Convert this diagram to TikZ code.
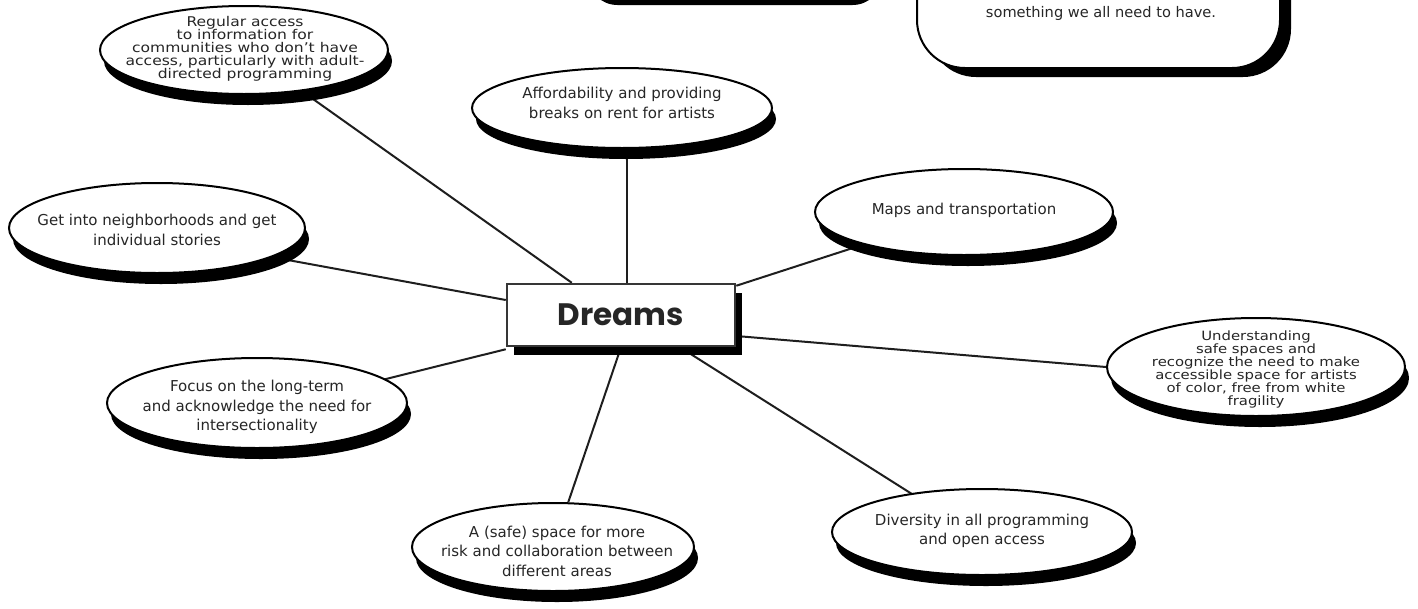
\documentclass[tikz,border=0pt]{standalone}
\usepackage{fontspec}
\setmainfont{DejaVu Sans}
\newfontfamily\widefont[FakeStretch=1.16]{DejaVu Sans}
\newfontfamily\titlefont{Poppins}
\usetikzlibrary{shapes.geometric,shadows,calc}
\pgfdeclarelayer{bg}
\pgfsetlayers{bg,main}
\definecolor{textgray}{HTML}{262626}
\definecolor{boxgray}{HTML}{363636}
\definecolor{linegray}{HTML}{1E1E1E}

\begin{document}
\lineskiplimit=-50pt\relax
\begin{tikzpicture}[x=1pt,y=-1pt,
  bubble/.style={ellipse, draw=black, line width=2pt, fill=white, inner sep=0pt,
    general shadow={shadow xshift=4pt, shadow yshift=-11pt, fill=black}},
  panel/.style={draw=black, line width=2pt, fill=white, inner sep=0pt},
  bubbletext/.style={align=center, text=textgray, inner sep=0pt,
    font=\fontsize{15}{19.5}\selectfont},
  densetext/.style={align=center, text=textgray, inner sep=0pt,
    font=\widefont\fontsize{13.4}{13}\selectfont},
  conn/.style={draw=linegray, line width=2pt}]

\useasboundingbox (0,0) rectangle (1418,608);
\clip (0,0) rectangle (1418,608);

% panels running off the top edge
\node[panel, rounded corners=30pt, minimum width=295pt, minimum height=80pt,
  general shadow={shadow xshift=6pt, shadow yshift=-8pt, fill=black}] (toppanel) at (729,-43) {};
\node[panel, rounded corners=48pt, minimum width=363pt, minimum height=160pt,
  general shadow={shadow xshift=11pt, shadow yshift=-9pt, fill=black}] (notepanel) at (1098.5,-12) {};
\node[bubbletext, font=\fontsize{14.6}{18}\selectfont] (notetext) at (1101,13) {something we all need to have.};

% central box
\node[draw=boxgray, line width=2.5pt, fill=white, minimum width=228pt, minimum height=62pt,
  inner sep=0pt, text=textgray, font=\titlefont\bfseries\fontsize{31}{31}\selectfont,
  general shadow={shadow xshift=7pt, shadow yshift=-9pt, fill=black}] (dreams) at (621,315) {Dreams};

% idea bubbles
\node[bubble, minimum width=288pt, minimum height=88pt] (e1) at (244,50) {};
\node[densetext] (t1) at (245,49) {Regular access\\to information for\\communities who don’t have\\access, particularly with adult-\\directed programming};

\node[bubble, minimum width=300pt, minimum height=80pt] (e2) at (622,108) {};
\node[bubbletext] (t2) at (622,103) {Affordability and providing\\breaks on rent for artists};

\node[bubble, minimum width=296pt, minimum height=90pt] (e3) at (157,228) {};
\node[bubbletext] (t3) at (157,230) {Get into neighborhoods and get\\individual stories};

\node[bubble, minimum width=298pt, minimum height=86pt] (e4) at (964,212) {};
\node[bubbletext] (t4) at (964,210) {Maps and transportation};

\node[bubble, minimum width=298pt, minimum height=98pt] (e5) at (1256,367) {};
\node[densetext, font=\widefont\fontsize{12.8}{13}\selectfont] (t5) at (1256,369) {Understanding\\safe spaces and\\recognize the need to make\\accessible space for artists\\of color, free from white\\fragility};

\node[bubble, minimum width=300pt, minimum height=86pt] (e6) at (982,532) {};
\node[bubbletext] (t6) at (982,531) {Diversity in all programming\\and open access};

\node[bubble, minimum width=282pt, minimum height=88pt] (e7) at (553,547) {};
\node[bubbletext] (t7) at (557,551) {A (safe) space for more\\risk and collaboration between\\different areas};

\node[bubble, minimum width=300pt, minimum height=90pt] (e8) at (257,403) {};
\node[bubbletext] (t8) at (257,407) {Focus on the long-term\\and acknowledge the need for\\intersectionality};

% spokes, drawn beneath everything
\begin{pgfonlayer}{bg}
  \draw[conn] (e1) -- ($(dreams.north west)+(66,0)$);
  \draw[conn] ($(e2.center)+(5,0)$) -- ($(dreams.north)+(6,0)$);
  \draw[conn] ($(e3.center)+(0,8)$) -- ($(dreams.west)+(0,-15)$);
  \draw[conn] ($(dreams.north east)+(0,3)$) -- (e4);
  \draw[conn] ($(dreams.east)+(0,21)$) -- (e5.west);
  \draw[conn] ($(dreams.south)+(59,0)$) -- ($(e6.center)+(-10,0)$);
  \draw[conn] (dreams.south) -- (e7);
  \draw[conn] ($(e8.center)+(0,8)$) -- ($(dreams.south west)+(0,2)$);
\end{pgfonlayer}
\end{tikzpicture}
\end{document}
